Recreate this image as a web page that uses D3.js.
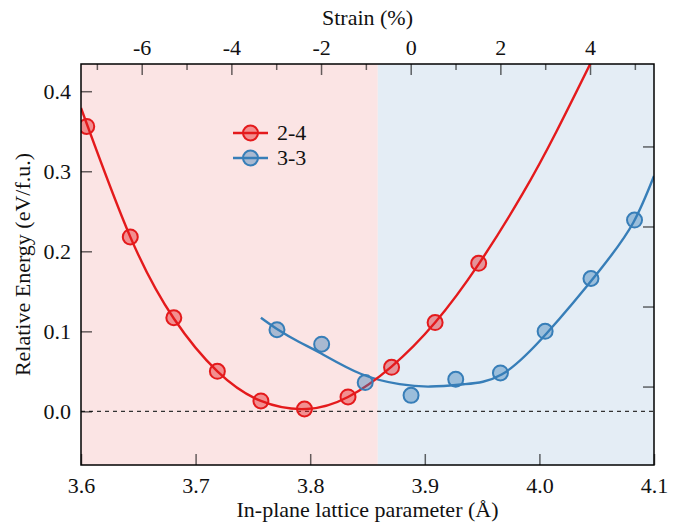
<!DOCTYPE html>
<html>
<head>
<meta charset="utf-8">
<script src="https://cdn.jsdelivr.net/npm/d3@7/dist/d3.min.js"></script>
<style>
  html, body { margin: 0; padding: 0; background: #ffffff; }
  svg { display: block; }
  svg text { font-family: "Liberation Serif", "DejaVu Serif", serif !important; fill: #111; }
</style>
</head>
<body>
<svg id="chart" width="683" height="522"></svg>
<script>
// ---------- data ----------
const series = ["2-4", "3-3"];
const colors = ["#e41a1c", "#377eb8"];

// computed points, configuration 2-4
const lattice24 = [3.605, 3.643, 3.681, 3.719, 3.757, 3.795, 3.833, 3.871, 3.909, 3.947];
const energy24  = [0.356, 0.218, 0.117, 0.050, 0.013, 0.003, 0.018, 0.055, 0.111, 0.185];

// computed points, configuration 3-3
const lattice33 = [3.771, 3.810, 3.848, 3.888, 3.927, 3.966, 4.005, 4.045, 4.083];
const energy33  = [0.102, 0.084, 0.036, 0.020, 0.040, 0.048, 0.100, 0.166, 0.239];

// fitted curves
const fitLattice24 = [3.600, 3.643, 3.681, 3.719, 3.757, 3.797, 3.833, 3.871, 3.909, 3.947, 3.985, 4.015, 4.045, 4.055];
const fitEnergy24  = [0.379, 0.218, 0.116, 0.050, 0.013, 0.003, 0.018, 0.056, 0.111, 0.184, 0.271, 0.350, 0.436, 0.465];
const fitLattice33 = [3.757, 3.771, 3.790, 3.810, 3.844, 3.878, 3.905, 3.935, 3.967, 4.006, 4.053, 4.082, 4.100];
const fitEnergy33  = [0.117, 0.103, 0.087, 0.072, 0.047, 0.034, 0.031, 0.034, 0.046, 0.097, 0.177, 0.236, 0.294];

// regions: compressive (left) / tensile (right) shading boundary
const regionBreak = 3.859;

// axes
const xDomain = [3.6, 4.1];
const yDomain = [-0.067, 0.434];
const xTicks = [3.6, 3.7, 3.8, 3.9, 4.0, 4.1];
const yTicks = [0.0, 0.1, 0.2, 0.3, 0.4];
const rightTicks = [0.031, 0.131, 0.231, 0.331];
const strainDomain = [-7.354, 5.427];
const strainMajor = [-6, -4, -2, 0, 2, 4];
const strainMinor = [-7, -5, -3, -1, 1, 3, 5];

// ---------- layout ----------
const FONT = "Liberation Serif";
const L = 81, R = 654, T = 64, B = 465;
const svg = d3.select("#chart");

const x = d3.scaleLinear().domain(xDomain).range([L, R]);
const y = d3.scaleLinear().domain(yDomain).range([B, T]);
const s = d3.scaleLinear().domain(strainDomain).range([L, R]);

svg.append("defs").append("clipPath").attr("id", "plotclip")
  .append("rect").attr("x", L).attr("y", T).attr("width", R - L).attr("height", B - T);

// backgrounds
svg.append("rect").attr("x", L).attr("y", T)
  .attr("width", x(regionBreak) - L).attr("height", B - T).attr("fill", "#fbe4e4");
svg.append("rect").attr("x", x(regionBreak)).attr("y", T)
  .attr("width", R - x(regionBreak)).attr("height", B - T).attr("fill", "#e4edf5");

// zero line
svg.append("line").attr("x1", L).attr("x2", R).attr("y1", y(0)).attr("y2", y(0))
  .attr("stroke", "#333").attr("stroke-width", 1.2).attr("stroke-dasharray", "4,4");

const tickStyle = g => {
  g.attr("font-family", FONT);
  g.select(".domain").remove();
  g.selectAll(".tick line").attr("stroke", "#000").attr("stroke-opacity", 0.6).attr("stroke-width", 1.5);
  g.selectAll(".tick text").attr("font-size", 22).attr("font-family", FONT).attr("fill", "#111");
};
const hyphenInt = d => String(d).replace("\u2212", "-");

// bottom axis
svg.append("g").attr("transform", `translate(0,${B})`)
  .call(d3.axisBottom(x).tickValues(xTicks).tickFormat(d3.format(".1f")).tickSizeInner(-11).tickSizeOuter(0).tickPadding(12))
  .call(tickStyle);

// left axis
svg.append("g").attr("transform", `translate(${L},0)`)
  .call(d3.axisLeft(y).tickValues(yTicks).tickFormat(d3.format(".1f")).tickSizeInner(-11).tickSizeOuter(0).tickPadding(10))
  .call(tickStyle);

// right axis (ticks only)
svg.append("g").attr("transform", `translate(${R},0)`)
  .call(d3.axisRight(y).tickValues(rightTicks).tickFormat("").tickSizeInner(-11).tickSizeOuter(0))
  .call(tickStyle);

// top axis (strain)
svg.append("g").attr("transform", `translate(0,${T})`)
  .call(d3.axisTop(s).tickValues(strainMajor).tickFormat(hyphenInt).tickSizeInner(-11).tickSizeOuter(0).tickPadding(9))
  .call(tickStyle);
svg.append("g").attr("transform", `translate(0,${T})`)
  .call(d3.axisTop(s).tickValues(strainMinor).tickFormat("").tickSizeInner(-6).tickSizeOuter(0))
  .call(tickStyle);

// curves
const plot = svg.append("g").attr("clip-path", "url(#plotclip)");
const lineGen = d3.line().x(d => x(d[0])).y(d => y(d[1])).curve(d3.curveNatural);

plot.append("path").datum(d3.zip(fitLattice33, fitEnergy33))
  .attr("d", lineGen).attr("fill", "none").attr("stroke", colors[1]).attr("stroke-width", 2.4);
plot.append("path").datum(d3.zip(fitLattice24, fitEnergy24))
  .attr("d", lineGen).attr("fill", "none").attr("stroke", colors[0]).attr("stroke-width", 2.4);

// points
const drawPts = (xs, ys, c) => {
  plot.append("g").selectAll("circle").data(d3.zip(xs, ys)).join("circle")
    .attr("cx", d => x(d[0])).attr("cy", d => y(d[1])).attr("r", 7.5)
    .attr("fill", c).attr("fill-opacity", 0.42)
    .attr("stroke", c).attr("stroke-width", 2);
};
drawPts(lattice33, energy33, colors[1]);
drawPts(lattice24, energy24, colors[0]);

// frame
svg.append("rect").attr("x", L).attr("y", T).attr("width", R - L).attr("height", B - T)
  .attr("fill", "none").attr("stroke", "#000").attr("stroke-width", 1.5);

// legend
const leg = svg.append("g").attr("font-family", FONT);
series.forEach((name, i) => {
  const yy = 133 + i * 25;
  leg.append("line").attr("x1", 233).attr("x2", 268).attr("y1", yy).attr("y2", yy)
    .attr("stroke", colors[i]).attr("stroke-width", 2.4);
  leg.append("circle").attr("cx", 250.5).attr("cy", yy).attr("r", 7.5)
    .attr("fill", colors[i]).attr("fill-opacity", 0.42).attr("stroke", colors[i]).attr("stroke-width", 2);
  leg.append("text").attr("x", 277).attr("y", yy + 7).attr("font-size", 22).attr("font-family", FONT).text(name);
});

// titles
svg.append("text").attr("x", (L + R) / 2).attr("y", 25).attr("text-anchor", "middle")
  .attr("font-size", 22).attr("font-family", FONT).text("Strain (%)");
svg.append("text").attr("x", (L + R) / 2).attr("y", 517).attr("text-anchor", "middle")
  .attr("font-size", 22).attr("font-family", FONT).text("In-plane lattice parameter (Å)");
svg.append("text").attr("transform", `translate(30,${(T + B) / 2}) rotate(-90)`).attr("text-anchor", "middle")
  .attr("font-size", 22).attr("font-family", FONT).text("Relative Energy (eV/f.u.)");
</script>
</body>
</html>
